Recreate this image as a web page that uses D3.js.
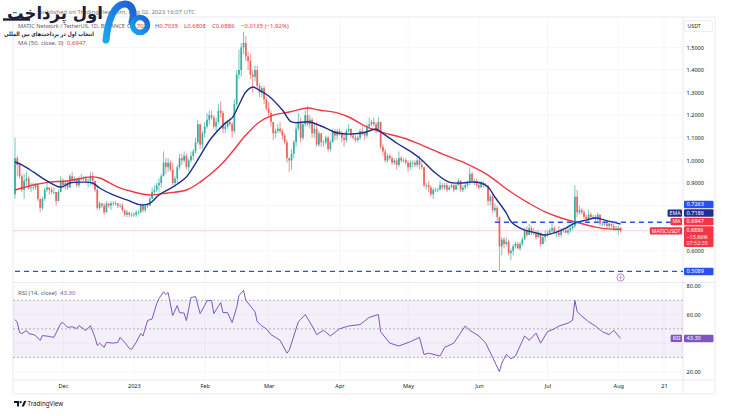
<!DOCTYPE html>
<html>
<head>
<meta charset="utf-8">
<script src="https://cdn.jsdelivr.net/npm/d3@7"></script>
<style>
  body { margin: 0; background: #fff; }
  svg { display: block; font-family: "Noto Sans", Roboto, sans-serif; }
</style>
</head>
<body>
<svg width="730" height="416"></svg>
<script>
// ---- data (daily MATICUSDT, 10 Nov 2022 .. 2 Aug 2023) ----
const startDay = "2022-11-10";
const firstOpen = 0.85;
const close = [
  1.01,0.98,0.93,0.87,0.91,0.92,0.88,0.88,0.88,0.89,0.83,0.79,0.83,0.87,0.88,0.87,0.86,0.86,0.82,0.86,0.91,
  0.89,0.90,0.88,0.93,0.91,0.92,0.89,0.92,0.92,0.92,0.91,0.91,0.93,0.91,0.87,0.79,0.81,0.80,0.77,0.81,0.80,0.81,0.81,0.81,0.80,0.80,0.78,0.76,0.77,0.76,0.76,
  0.76,0.77,0.77,0.80,0.78,0.80,0.80,0.83,0.86,0.87,0.89,0.90,0.93,0.99,0.97,0.99,0.96,0.90,0.92,0.97,1.01,1.00,1.02,0.97,1.00,1.02,1.04,1.08,1.16,1.07,1.12,
  1.15,1.18,1.20,1.19,1.15,1.17,1.22,1.21,1.14,1.15,1.17,1.16,1.13,1.25,1.38,1.40,1.50,1.52,1.46,1.44,1.38,1.37,1.40,1.33,1.30,1.32,1.27,1.23,
  1.21,1.17,1.12,1.13,1.14,1.13,1.11,1.08,1.01,1.00,1.03,1.08,1.14,1.17,1.10,1.16,1.20,1.16,1.18,1.12,1.14,1.07,1.12,1.08,1.08,1.10,1.05,1.08,1.13,1.11,1.13,
  1.12,1.10,1.09,1.13,1.14,1.11,1.10,1.09,1.10,1.13,1.12,1.11,1.15,1.16,1.17,1.16,1.14,1.17,1.06,1.04,1.00,1.02,1.01,0.99,1.00,0.98,1.01,1.00,1.00,0.99,
  0.97,0.99,0.99,0.98,1.00,0.98,0.97,0.89,0.89,0.88,0.85,0.87,0.87,0.87,0.89,0.88,0.89,0.87,0.88,0.89,0.87,0.89,0.91,0.87,0.88,0.89,0.90,0.94,0.91,0.91,0.89,
  0.88,0.90,0.89,0.89,0.82,0.84,0.78,0.79,0.75,0.62,0.65,0.63,0.64,0.59,0.60,0.62,0.63,0.61,0.63,0.65,0.69,0.67,0.70,0.68,0.68,0.66,0.68,0.63,0.66,0.67,
  0.68,0.69,0.70,0.68,0.68,0.67,0.69,0.69,0.68,0.69,0.70,0.71,0.84,0.77,0.78,0.77,0.75,0.74,0.76,0.75,0.75,0.74,0.76,0.72,0.72,0.72,0.71,0.72,0.71,0.70,0.70,
  0.7021,0.6886
];
const high = [
  1.10,1.02,0.99,0.94,0.94,0.95,0.93,0.90,0.90,0.90,0.90,0.83,0.84,0.88,0.90,0.88,0.88,0.88,0.86,0.87,0.93,
  0.92,0.91,0.91,0.94,0.95,0.93,0.92,0.93,0.94,0.93,0.93,0.92,0.95,0.95,0.91,0.88,0.82,0.81,0.81,0.82,0.81,0.82,0.82,0.82,0.81,0.81,0.81,0.78,0.78,0.77,0.77,
  0.77,0.78,0.78,0.81,0.80,0.80,0.81,0.84,0.88,0.89,0.90,0.92,0.94,1.04,1.01,1.01,1.00,0.99,0.93,0.98,1.03,1.03,1.04,1.03,1.01,1.04,1.05,1.10,1.18,1.16,1.13,
  1.17,1.21,1.22,1.22,1.20,1.19,1.25,1.26,1.22,1.17,1.18,1.19,1.17,1.27,1.40,1.49,1.52,1.57,1.55,1.48,1.47,1.40,1.42,1.42,1.34,1.33,1.33,1.28,
  1.26,1.22,1.17,1.14,1.16,1.17,1.14,1.12,1.09,1.01,1.05,1.09,1.16,1.21,1.19,1.17,1.22,1.24,1.20,1.19,1.16,1.17,1.13,1.12,1.09,1.11,1.11,1.09,1.14,1.14,1.14,
  1.14,1.13,1.12,1.14,1.16,1.14,1.12,1.11,1.11,1.14,1.15,1.13,1.16,1.19,1.18,1.19,1.17,1.19,1.17,1.07,1.05,1.03,1.03,1.02,1.01,1.01,1.04,1.02,1.01,1.01,
  1.00,1.00,1.00,1.00,1.01,1.02,1.00,0.97,0.90,0.91,0.89,0.88,0.88,0.88,0.91,0.90,0.90,0.90,0.89,0.90,0.90,0.90,0.92,0.91,0.89,0.90,0.91,0.97,0.95,0.92,0.92,
  0.90,0.91,0.91,0.90,0.89,0.85,0.85,0.81,0.80,0.75,0.66,0.66,0.66,0.65,0.61,0.63,0.64,0.64,0.64,0.66,0.70,0.71,0.72,0.71,0.70,0.69,0.69,0.68,0.67,0.69,
  0.69,0.70,0.72,0.71,0.69,0.71,0.70,0.70,0.70,0.70,0.71,0.73,0.89,0.87,0.80,0.79,0.78,0.76,0.78,0.77,0.76,0.76,0.77,0.76,0.73,0.73,0.73,0.73,0.72,0.72,0.71,
  0.71,0.7035
];
const low = [
  0.83,0.93,0.92,0.86,0.83,0.89,0.87,0.86,0.87,0.87,0.82,0.77,0.78,0.82,0.86,0.85,0.85,0.85,0.80,0.82,0.86,
  0.88,0.87,0.87,0.88,0.90,0.90,0.88,0.88,0.91,0.91,0.90,0.88,0.89,0.89,0.86,0.78,0.78,0.79,0.76,0.77,0.79,0.78,0.80,0.80,0.79,0.79,0.77,0.75,0.75,0.75,0.75,
  0.75,0.75,0.76,0.77,0.77,0.77,0.79,0.80,0.83,0.85,0.86,0.86,0.88,0.93,0.94,0.95,0.95,0.89,0.88,0.90,0.96,0.98,0.99,0.96,0.95,0.99,1.00,1.03,1.07,1.05,1.05,
  1.10,1.14,1.16,1.18,1.14,1.13,1.16,1.19,1.12,1.12,1.14,1.15,1.10,1.12,1.24,1.36,1.37,1.47,1.44,1.40,1.36,1.30,1.35,1.31,1.28,1.28,1.25,1.22,
  1.19,1.15,1.09,1.10,1.12,1.12,1.09,1.07,0.99,0.95,0.96,1.01,1.06,1.13,1.08,1.09,1.15,1.15,1.14,1.10,1.10,1.06,1.06,1.06,1.06,1.07,1.04,1.04,1.08,1.09,1.09,
  1.11,1.08,1.06,1.08,1.12,1.10,1.09,1.08,1.08,1.09,1.11,1.09,1.10,1.14,1.15,1.15,1.12,1.13,1.05,1.02,0.99,0.99,1.00,0.98,0.98,0.96,0.97,0.99,0.99,0.98,
  0.95,0.96,0.97,0.97,0.97,0.96,0.96,0.88,0.87,0.86,0.84,0.83,0.86,0.86,0.87,0.87,0.87,0.86,0.87,0.88,0.86,0.87,0.89,0.86,0.86,0.87,0.88,0.89,0.90,0.89,0.88,
  0.87,0.88,0.88,0.88,0.80,0.80,0.77,0.77,0.73,0.51,0.58,0.61,0.62,0.58,0.56,0.58,0.61,0.61,0.60,0.62,0.65,0.66,0.67,0.67,0.67,0.65,0.66,0.62,0.63,0.64,
  0.66,0.67,0.68,0.68,0.66,0.66,0.66,0.68,0.68,0.67,0.68,0.69,0.70,0.75,0.76,0.76,0.74,0.73,0.73,0.74,0.74,0.73,0.73,0.71,0.71,0.71,0.70,0.70,0.70,0.69,0.69,
  0.67,0.6808
];

// EMA (blue) and MA 50 (red)
const emaPts = [
  ["2022-11-10",0.993],["2022-11-13",0.98],["2022-11-18",0.949],["2022-11-22",0.922],["2022-11-30",0.882],
  ["2022-12-04",0.90],["2022-12-10",0.904],["2022-12-14",0.90],["2022-12-17",0.878],["2022-12-23",0.847],
  ["2022-12-29",0.825],["2023-01-04",0.803],["2023-01-08",0.81],["2023-01-12",0.847],["2023-01-18",0.882],
  ["2023-01-24",0.927],["2023-01-27",0.97],["2023-01-30",1.02],["2023-02-04",1.10],["2023-02-10",1.165],
  ["2023-02-13",1.188],["2023-02-16",1.245],["2023-02-19",1.303],["2023-02-22",1.325],["2023-02-25",1.31],
  ["2023-03-01",1.285],["2023-03-07",1.223],["2023-03-11",1.17],["2023-03-19",1.17],["2023-03-26",1.143],
  ["2023-03-31",1.121],["2023-04-11",1.121],["2023-04-17",1.139],["2023-04-19",1.126],["2023-04-26",1.077],
  ["2023-05-03",1.033],["2023-05-07",1.002],["2023-05-13",0.944],["2023-05-19",0.904],["2023-05-25",0.90],
  ["2023-05-28",0.904],["2023-06-02",0.90],["2023-06-05",0.882],["2023-06-08",0.838],["2023-06-13",0.767],
  ["2023-06-15",0.73],["2023-06-20",0.696],["2023-06-26",0.679],["2023-06-30",0.67],["2023-07-05",0.683],
  ["2023-07-09",0.70],["2023-07-13",0.723],["2023-07-18",0.736],["2023-07-22",0.745],["2023-07-26",0.736],
  ["2023-08-02",0.7186]
];
const maPts = [
  ["2022-11-10",0.869],["2022-11-18",0.891],["2022-11-25",0.904],["2022-12-03",0.909],["2022-12-13",0.927],
  ["2022-12-17",0.922],["2022-12-25",0.882],["2023-01-01",0.86],["2023-01-08",0.847],["2023-01-16",0.856],
  ["2023-01-24",0.869],["2023-01-30",0.904],["2023-02-08",0.98],["2023-02-13",1.037],["2023-02-19",1.112],
  ["2023-02-25",1.17],["2023-03-03",1.20],["2023-03-10",1.214],["2023-03-18",1.232],["2023-03-23",1.223],
  ["2023-03-31",1.21],["2023-04-05",1.192],["2023-04-13",1.148],["2023-04-19",1.126],["2023-04-29",1.099],
  ["2023-05-07",1.068],["2023-05-17",1.024],["2023-05-26",0.988],["2023-06-01",0.958],["2023-06-05",0.935],
  ["2023-06-08",0.913],["2023-06-15",0.86],["2023-06-23",0.81],["2023-06-30",0.772],["2023-07-07",0.745],
  ["2023-07-15",0.723],["2023-07-22",0.705],["2023-07-29",0.696],["2023-08-02",0.6947]
];
// RSI (14, close)
const rsiPts = [
  ["2022-11-10",56.5],["2022-11-11",54.4],["2022-11-12",47.4],["2022-11-13",46.7],["2022-11-15",48.8],
  ["2022-11-16",46.7],["2022-11-18",46],["2022-11-19",45.3],["2022-11-21",41.9],["2022-11-22",45.3],
  ["2022-11-25",44.7],["2022-11-27",44],["2022-11-30",53.7],["2022-12-01",54.4],["2022-12-03",51],
  ["2022-12-05",51.5],["2022-12-07",50.2],["2022-12-08",52.3],["2022-12-11",48.8],["2022-12-13",52.3],
  ["2022-12-15",44],["2022-12-16",38.4],["2022-12-17",40],["2022-12-19",37],["2022-12-20",40.5],
  ["2022-12-23",40],["2022-12-25",40.5],["2022-12-26",44],["2022-12-28",40.5],["2022-12-30",36.3],
  ["2022-12-31",35.6],["2023-01-02",40.5],["2023-01-04",46.7],["2023-01-05",45],["2023-01-07",55.8],
  ["2023-01-09",57],["2023-01-11",67.7],["2023-01-12",71.2],["2023-01-14",76],["2023-01-15",74],
  ["2023-01-16",75.4],["2023-01-18",59.3],["2023-01-20",66.3],["2023-01-21",61.4],["2023-01-23",61],
  ["2023-01-24",55.8],["2023-01-26",71.9],["2023-01-28",72.6],["2023-01-30",60.7],["2023-02-01",66.3],
  ["2023-02-02",69.8],["2023-02-04",69.8],["2023-02-05",60.7],["2023-02-08",68.4],["2023-02-09",61.4],
  ["2023-02-11",61.4],["2023-02-13",54.4],["2023-02-15",64.9],["2023-02-16",73.3],["2023-02-18",77],
  ["2023-02-19",70],["2023-02-21",66],["2023-02-23",62],["2023-02-24",55],["2023-02-26",52],
  ["2023-02-28",50],["2023-03-02",46],["2023-03-04",44],["2023-03-06",42],["2023-03-09",33],
  ["2023-03-10",35],["2023-03-12",45],["2023-03-14",55],["2023-03-17",60],["2023-03-20",52],
  ["2023-03-22",46],["2023-03-25",49],["2023-03-28",45],["2023-04-01",50],["2023-04-05",52],
  ["2023-04-10",53],["2023-04-14",58],["2023-04-18",60],["2023-04-19",48],["2023-04-23",40],
  ["2023-04-27",38],["2023-05-02",41],["2023-05-06",44],["2023-05-08",32],["2023-05-10",33],
  ["2023-05-15",31],["2023-05-17",37],["2023-05-21",40],["2023-05-26",52],["2023-05-28",49],
  ["2023-06-01",45],["2023-06-04",40],["2023-06-07",30],["2023-06-10",20],["2023-06-11",26],
  ["2023-06-13",32],["2023-06-15",29],["2023-06-17",31],["2023-06-19",38],["2023-06-21",45],
  ["2023-06-23",42],["2023-06-26",47],["2023-06-28",40],["2023-07-01",48],["2023-07-04",50],
  ["2023-07-06",52],["2023-07-10",54],["2023-07-12",56],["2023-07-13",70],["2023-07-14",62],
  ["2023-07-16",59],["2023-07-19",55],["2023-07-22",52],["2023-07-25",48],["2023-07-28",46],
  ["2023-07-30",49],["2023-08-02",43.3]
];

const priceTicks = [0.6, 0.7, 0.8, 0.9, 1.0, 1.1, 1.2, 1.3, 1.4, 1.5];
const rsiTicks = [20, 40, 60, 80];
const timeTicks = [
  ["2022-12-01","Dec"],["2023-01-01","2023"],["2023-02-01","Feb"],["2023-03-01","Mar"],["2023-04-01","Apr"],
  ["2023-05-01","May"],["2023-06-01","Jun"],["2023-07-01","Jul"],["2023-08-01","Aug"],["2023-08-21","21"]
];
// horizontal levels drawn by the author
const levels = [
  { from: "2022-11-10", value: 0.5089 },
  { from: "2023-06-08", value: 0.7263 }
];
const lastEma = 0.7186, lastMa = 0.6947, lastPrice = 0.6886, lastRsi = 43.30;

// ---- layout ----
const svg = d3.select("svg");
const left = 13, right = 683, axisRight = 715;
const mainTop = 17, mainBottom = 282, rsiTop = 283, rsiBottom = 380, timeBottom = 394;
const fontSz = 5.6, textCol = "#131722";
const up = "#35b0a0", down = "#f0625f";

const parse = d3.utcParse("%Y-%m-%d");
const day0 = parse(startDay);
const candles = close.map((c, i) => ({
  date: d3.utcDay.offset(day0, i),
  o: i ? close[i - 1] : firstOpen,
  h: high[i], l: low[i], c
}));

const x = d3.scaleUtc().domain([parse("2022-12-01"), parse("2023-08-21")]).range([63, 664]);
const y = d3.scaleLinear().domain([0.5, 1.5]).range([273.4, 47.4]);
const yr = d3.scaleLinear().domain([20, 80]).range([371.7, 286]);

const defs = svg.append("defs");
defs.append("clipPath").attr("id", "clipMain").append("rect")
  .attr("x", left).attr("y", mainTop).attr("width", right - left).attr("height", mainBottom - mainTop);
defs.append("clipPath").attr("id", "clipRsi").append("rect")
  .attr("x", left).attr("y", rsiTop).attr("width", right - left).attr("height", rsiBottom - rsiTop);

// grid
const grid = svg.append("g").attr("stroke", "#f0f3fa").attr("stroke-width", 0.7);
grid.selectAll(".v").data(timeTicks).join("line")
  .attr("x1", d => x(parse(d[0]))).attr("x2", d => x(parse(d[0])))
  .attr("y1", mainTop).attr("y2", rsiBottom);
grid.selectAll(".h").data(priceTicks).join("line")
  .attr("x1", left).attr("x2", right).attr("y1", d => y(d)).attr("y2", d => y(d));
grid.selectAll(".r").data(rsiTicks).join("line")
  .attr("x1", left).attr("x2", right).attr("y1", d => yr(d)).attr("y2", d => yr(d));

// frame
const frame = svg.append("g").attr("stroke", "#e0e3eb").attr("stroke-width", 0.7).attr("fill", "none");
frame.append("rect").attr("x", left).attr("y", mainTop).attr("width", axisRight - left).attr("height", timeBottom - mainTop);
frame.append("line").attr("x1", right).attr("x2", right).attr("y1", mainTop).attr("y2", timeBottom);
frame.append("line").attr("x1", left).attr("x2", axisRight).attr("y1", mainBottom + 0.5).attr("y2", mainBottom + 0.5);
frame.append("line").attr("x1", left).attr("x2", axisRight).attr("y1", rsiBottom).attr("y2", rsiBottom);

// ---- main pane ----
const main = svg.append("g").attr("clip-path", "url(#clipMain)");

// last price line
main.append("line").attr("x1", left).attr("x2", right)
  .attr("y1", y(lastPrice)).attr("y2", y(lastPrice))
  .attr("stroke", "#f23645").attr("stroke-opacity", 0.3).attr("stroke-width", 0.8);

// candles
const cg = main.append("g");
cg.selectAll("line").data(candles).join("line")
  .attr("x1", d => x(d.date)).attr("x2", d => x(d.date))
  .attr("y1", d => y(d.h)).attr("y2", d => y(d.l))
  .attr("stroke", d => d.c >= d.o ? up : down).attr("stroke-width", 0.7);
cg.selectAll("rect").data(candles).join("rect")
  .attr("x", d => x(d.date) - 0.85).attr("width", 1.7)
  .attr("y", d => y(Math.max(d.o, d.c)))
  .attr("height", d => Math.max(0.7, Math.abs(y(d.o) - y(d.c))))
  .attr("fill", d => d.c >= d.o ? up : down);

// moving averages
const line = d3.line().x(d => x(parse(d[0]))).y(d => y(d[1])).curve(d3.curveCatmullRom.alpha(0.5));
main.append("path").attr("d", line(maPts)).attr("fill", "none")
  .attr("stroke", "#f23645").attr("stroke-width", 1.4);
main.append("path").attr("d", line(emaPts)).attr("fill", "none")
  .attr("stroke", "#1f2f8f").attr("stroke-width", 1.4);

// dashed levels
main.selectAll(".lvl").data(levels).join("line")
  .attr("x1", d => x(parse(d.from))).attr("x2", right)
  .attr("y1", d => y(d.value)).attr("y2", d => y(d.value))
  .attr("stroke", "#2a4ff0").attr("stroke-width", 1.3).attr("stroke-dasharray", "5,4");

// event marker
const lastX = x(candles[candles.length - 1].date);
svg.append("circle").attr("cx", lastX).attr("cy", mainBottom - 4.5).attr("r", 3.6)
  .attr("fill", "#fff").attr("stroke", "#b05fd0").attr("stroke-width", 0.8);
svg.append("path")
  .attr("d", `M${lastX + 0.6},${mainBottom - 7.2} L${lastX - 1.2},${mainBottom - 4.2} L${lastX},${mainBottom - 4.2} L${lastX - 0.6},${mainBottom - 1.8} L${lastX + 1.2},${mainBottom - 4.9} L${lastX},${mainBottom - 4.9} Z`)
  .attr("fill", "#b05fd0");

// ---- RSI pane ----
const rsiG = svg.append("g").attr("clip-path", "url(#clipRsi)");
rsiG.append("rect").attr("x", left).attr("width", right - left)
  .attr("y", yr(70)).attr("height", yr(30) - yr(70)).attr("fill", "#7e57c2").attr("fill-opacity", 0.09);
rsiG.selectAll(".band").data([70, 50, 30]).join("line")
  .attr("x1", left).attr("x2", right).attr("y1", d => yr(d)).attr("y2", d => yr(d))
  .attr("stroke", "#9598a1").attr("stroke-width", 0.7).attr("stroke-dasharray", "2,2");
rsiG.append("path")
  .attr("d", d3.line().x(d => x(parse(d[0]))).y(d => yr(d[1]))(rsiPts))
  .attr("fill", "none").attr("stroke", "#7e57c2").attr("stroke-width", 1);

// ---- axes ----
const styleAxis = g => g.attr("font-size", fontSz).attr("font-family", "'Noto Sans', sans-serif")
  .call(g => g.select(".domain").remove())
  .call(g => g.selectAll("text").attr("fill", textCol));

const priceAxis = svg.append("g").attr("transform", `translate(${right},0)`)
  .call(d3.axisRight(y).tickValues(priceTicks).tickFormat(d3.format(".4f")).tickSize(0).tickPadding(3.5))
  .call(styleAxis);
const rsiAxis = svg.append("g").attr("transform", `translate(${right},0)`)
  .call(d3.axisRight(yr).tickValues(rsiTicks).tickFormat(d3.format(".2f")).tickSize(0).tickPadding(3.5))
  .call(styleAxis);
svg.append("g").attr("transform", `translate(0,${rsiBottom})`)
  .call(d3.axisBottom(x).tickValues(timeTicks.map(t => parse(t[0])))
    .tickFormat((d, i) => timeTicks[i][1]).tickSize(0).tickPadding(4))
  .call(styleAxis);

// USDT unit box
svg.append("rect").attr("x", right + 1.5).attr("y", 20.5).attr("width", 28).attr("height", 11)
  .attr("rx", 1.5).attr("fill", "#fff").attr("stroke", "#e0e3eb").attr("stroke-width", 0.6);
svg.append("text").attr("x", right + 4.5).attr("y", 26).attr("dy", "0.35em")
  .attr("font-size", 5.2).attr("fill", textCol).text("USDT");

// ---- right-side labels ----
const covered = [];   // y ranges taken by labels on the price scale
function valueBox(cy, txt, fill, h = 7.5) {
  covered.push([cy - h / 2, cy + h / 2]);
  svg.append("rect").attr("x", right + 1).attr("y", cy - h / 2).attr("width", 29.5).attr("height", h)
    .attr("rx", 1).attr("fill", fill);
  svg.append("text").attr("x", right + 3.5).attr("y", cy).attr("dy", "0.35em")
    .attr("font-size", fontSz).attr("fill", "#fff").text(txt);
}
function tag(cy, txt, fill) {
  const t = svg.append("text").attr("x", right - 2.5).attr("y", cy).attr("dy", "0.35em")
    .attr("text-anchor", "end").attr("font-size", 5.2).attr("fill", "#fff").text(txt);
  const w = t.node().getComputedTextLength();
  svg.insert("rect", () => t.node()).attr("x", right - w - 4.5).attr("y", cy - 3.6)
    .attr("width", w + 3.5).attr("height", 7.2).attr("rx", 1).attr("fill", fill);
}
const fmt4 = d3.format(".4f");

// price box (3 lines)
const pTop = y(lastPrice) - 4.5, pH = 20.6;
covered.push([pTop, pTop + pH]);
svg.append("rect").attr("x", right + 1).attr("y", pTop).attr("width", 29.5).attr("height", pH)
  .attr("rx", 1).attr("fill", "#f23645");
[fmt4(lastPrice), "\u221215.66%", "07:52:35"].forEach((s, i) => {
  svg.append("text").attr("x", right + 3.5).attr("y", pTop + 4.1 + i * 6.6).attr("dy", "0.35em")
    .attr("font-size", 5.4).attr("fill", i === 2 ? "#fde3e5" : "#fff").text(s);
});
tag(y(lastPrice), "MATICUSDT", "#f23645");

// stacked labels above the price box
let limit = pTop - 1;
[
  { v: lastMa, fill: "#f23645", tag: "MA" },
  { v: lastEma, fill: "#1f2f8f", tag: "EMA" },
  { v: levels[1].value, fill: "#2a4ff0", tag: null }
].forEach(s => {
  const cy = Math.min(y(s.v), limit - 3.75);
  valueBox(cy, fmt4(s.v), s.fill);
  if (s.tag) tag(cy, s.tag, s.fill);
  limit = cy - 3.75 - 1;
});
valueBox(y(levels[0].value), fmt4(levels[0].value), "#2a4ff0");

// RSI value
valueBox(yr(lastRsi), d3.format(".2f")(lastRsi), "#7e57c2");
tag(yr(lastRsi), "RSI", "#7e57c2");

// scale labels hidden under the value labels, as on the original
[[priceAxis, y], [rsiAxis, yr]].forEach(([ax, sc]) => {
  ax.selectAll(".tick").filter(d => covered.some(([a, b]) => sc(d) > a - 2 && sc(d) < b + 2)).remove();
});

// ---- header texts ----
const hdr = svg.append("g").attr("font-size", 6);
hdr.append("text").attr("x", 195).attr("y", 14).attr("text-anchor", "end").attr("fill", "#787b86")
  .text("published on TradingView.com, Aug 02, 2023 16:07 UTC");
hdr.append("text").attr("x", 18).attr("y", 27.5).attr("fill", "#5d606b").attr("font-size", 5.6)
  .text("MATIC Network / TetherUS, 1D, BINANCE");
const ohlc = [["O", "0.7021", 127], ["H", "0.7035", 155], ["L", "0.6808", 184], ["C", "0.6886", 212]];
ohlc.forEach(([k, v, px]) => {
  const t = hdr.append("text").attr("x", px).attr("y", 27.5);
  t.append("tspan").attr("fill", "#5d606b").text(k);
  t.append("tspan").attr("fill", "#f23645").text(v);
});
hdr.append("text").attr("x", 241).attr("y", 27.5).attr("fill", "#f23645").text("\u22120.0135 (\u22121.92%)");
hdr.append("text").attr("x", 18).attr("y", 45).attr("fill", "#5d606b").text("MA (50, close, 0)");
hdr.append("text").attr("x", 67).attr("y", 45).attr("fill", "#f23645").text(fmt4(lastMa));
hdr.append("text").attr("x", 18).attr("y", 294.5).attr("fill", "#5d606b").text("RSI (14, close)");
hdr.append("text").attr("x", 60).attr("y", 294.5).attr("fill", "#7e57c2").text(d3.format(".2f")(lastRsi));

// ---- watermark logo (top-left) ----
const grad = defs.append("linearGradient").attr("id", "logoGrad")
  .attr("x1", "0").attr("y1", "1").attr("x2", "1").attr("y2", "0");
grad.append("stop").attr("offset", "0").attr("stop-color", "#1aa6f0");
grad.append("stop").attr("offset", "1").attr("stop-color", "#1f5fd6");
const logo = svg.append("g");
logo.append("path").attr("d", "M106,40 C108,20 114,5 124,4 C132,3 135,12 132,22")
  .attr("fill", "none").attr("stroke", "url(#logoGrad)").attr("stroke-width", 7).attr("stroke-linecap", "round");
logo.append("circle").attr("cx", 140).attr("cy", 25).attr("r", 7.5)
  .attr("fill", "none").attr("stroke", "url(#logoGrad)").attr("stroke-width", 5.5);
logo.append("line").attr("x1", 3).attr("x2", 30).attr("y1", 19.5).attr("y2", 19.5)
  .attr("stroke", "#1b1f3b").attr("stroke-width", 2.4);
logo.append("text").attr("x", 55).attr("y", 19).attr("text-anchor", "middle")
  .attr("textLength", 96).attr("lengthAdjust", "spacingAndGlyphs")
  .attr("font-family", "'DejaVu Sans', sans-serif").attr("font-weight", "bold")
  .attr("font-size", 17).attr("fill", "#1b1f3b").text("اول پرداخت");
logo.append("text").attr("x", 49).attr("y", 35.5).attr("text-anchor", "middle")
  .attr("textLength", 90).attr("lengthAdjust", "spacingAndGlyphs")
  .attr("font-family", "'DejaVu Sans', sans-serif").attr("font-weight", "bold")
  .attr("font-size", 6).attr("fill", "#1b1f3b").text("انتخاب اول در پرداخت‌های بین المللی");

// ---- TradingView footer ----
const tv = svg.append("g").attr("fill", textCol);
tv.append("path").attr("d", "M14,401 h5 v5.5 h-2 v-3.5 h-3 z");
tv.append("circle").attr("cx", 20.6).attr("cy", 402.2).attr("r", 1.1);
tv.append("path").attr("d", "M21.6,406.5 L24,401 H26.3 L23.9,406.5 Z");
tv.append("text").attr("x", 27.5).attr("y", 403.7).attr("dy", "0.35em").attr("font-size", 6.2).text("TradingView");
</script>
</body>
</html>
